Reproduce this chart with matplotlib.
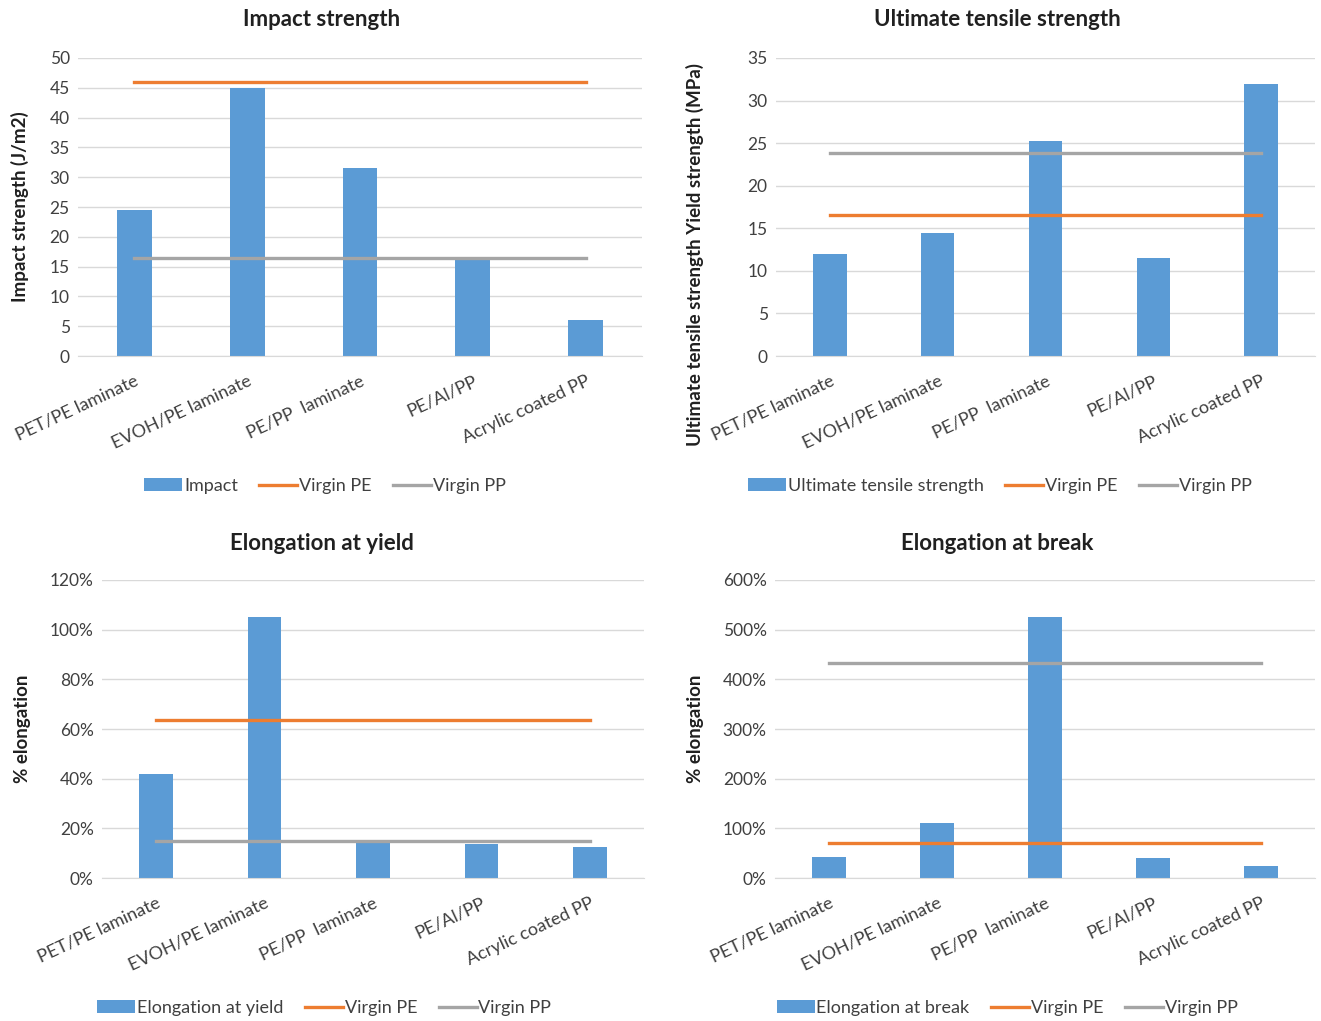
import matplotlib
matplotlib.use('Agg')
import matplotlib.pyplot as plt
from matplotlib.ticker import PercentFormatter, MultipleLocator

plt.rcParams['font.family'] = ['Lato', 'DejaVu Sans']

materials = ['PET/PE laminate', 'EVOH/PE laminate', 'PE/PP  laminate', 'PE/Al/PP', 'Acrylic coated PP']

impact = [24.5, 45.0, 31.5, 16.3, 6.0]
impact_pe = 46.0
impact_pp = 16.5

tensile = [12.0, 14.5, 25.3, 11.5, 32.0]
tensile_pe = 16.6
tensile_pp = 23.8

elong_yield = [42, 105, 14.5, 13.5, 12.5]
yield_pe = 63.5
yield_pp = 15

elong_break = [42, 110, 525, 40, 25]
break_pe = 70
break_pp = 432

BLUE = '#5B9BD5'
ORANGE = '#ED7D31'
GREY = '#A5A5A5'
TXT = '#404040'

W, H = 1321, 1021
fig = plt.figure(figsize=(W / 100, H / 100), dpi=100)


def make_axes(left, right, top, bottom):
    return fig.add_axes([left / W, 1 - bottom / H, (right - left) / W, (bottom - top) / H])


def draw(ax, vals, pe, pp, bar_label, ymax, step, ylabel, ylab_xy, leg_x, pct=False):
    x = list(range(len(materials)))
    bars = ax.bar(x, vals, width=0.31, color=BLUE, label=bar_label, zorder=2)
    l1, = ax.plot([x[0], x[-1]], [pe, pe], color=ORANGE, lw=2.4, label='Virgin PE', zorder=3)
    l2, = ax.plot([x[0], x[-1]], [pp, pp], color=GREY, lw=2.4, label='Virgin PP', zorder=3)
    ax.set_xlim(-0.5, len(materials) - 0.5)
    ax.set_ylim(0, ymax)
    ax.yaxis.set_major_locator(MultipleLocator(step))
    if pct:
        ax.yaxis.set_major_formatter(PercentFormatter(xmax=100, decimals=0))
    ax.grid(axis='y', color='#D9D9D9', lw=1, zorder=0)
    for s in ['top', 'right', 'left']:
        ax.spines[s].set_visible(False)
    ax.spines['bottom'].set_color('#D9D9D9')
    ax.tick_params(axis='y', length=0, labelsize=12.5, colors=TXT, pad=6)
    ax.tick_params(axis='x', length=0, labelsize=13, colors=TXT, pad=12)
    ax.set_xticks(x)
    ax.set_xticklabels(materials, rotation=25, ha='right', rotation_mode='anchor')
    ax.set_ylabel(ylabel, fontsize=13.5, fontweight='bold', color='#202020')
    ax.yaxis.set_label_coords(*ylab_xy)
    ax.legend([bars, l1, l2], [bar_label, 'Virgin PE', 'Virgin PP'],
              loc='center', bbox_to_anchor=(leg_x, -0.436), ncol=3, frameon=False,
              fontsize=13, handlelength=2.1, handletextpad=0.1, columnspacing=1.2,
              labelcolor=TXT)


ax1 = make_axes(78, 642, 58, 356)
draw(ax1, impact, impact_pe, impact_pp, 'Impact', 50, 5,
     'Impact strength (J/m2)', (-0.087, 0.5), 0.438)

ax2 = make_axes(776, 1315, 58, 356)
draw(ax2, tensile, tensile_pe, tensile_pp, 'Ultimate tensile strength', 35, 5,
     'Ultimate tensile strength Yield strength (MPa)', (-0.134, 0.34), 0.415)

ax3 = make_axes(102, 644, 580, 878)
draw(ax3, elong_yield, yield_pe, yield_pp, 'Elongation at yield', 120, 20,
     '% elongation', (-0.131, 0.5), 0.41, pct=True)

ax4 = make_axes(775, 1315, 580, 878)
draw(ax4, elong_break, break_pe, break_pp, 'Elongation at break', 600, 100,
     '% elongation', (-0.131, 0.5), 0.43, pct=True)

for tx, ty, t in [(322, 20, 'Impact strength'), (997, 20, 'Ultimate tensile strength'),
                  (322, 543, 'Elongation at yield'), (997, 543, 'Elongation at break')]:
    fig.text(tx / W, 1 - ty / H, t, ha='center', va='center', fontsize=16,
             fontweight='bold', color='#202020')

fig.savefig('out.png', dpi=100, facecolor='white')
